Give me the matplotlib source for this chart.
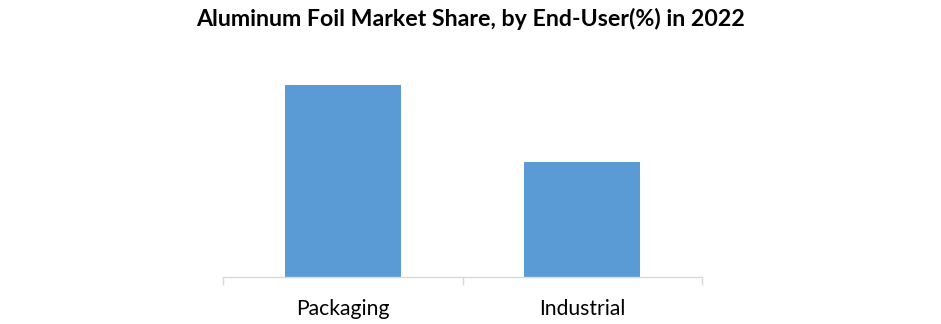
import numpy as np
import matplotlib.pyplot as plt

# Market share by end-user (%)
categories = ['Packaging', 'Industrial']
share = [62.6, 37.4]

plt.rcParams['font.family'] = ['Lato', 'DejaVu Sans']

fig = plt.figure(figsize=(9.41, 3.24), dpi=100)
ax = fig.add_axes([223 / 941, 47 / 324, 479 / 941, 214.7 / 324])

x = np.arange(len(categories))
ax.bar(x, share, width=0.483, color='#5B9BD5', zorder=2)

ax.set_xlim(-0.5, len(categories) - 0.5)
ax.set_ylim(0, 70)

for side in ['top', 'right', 'left']:
    ax.spines[side].set_visible(False)
ax.spines['bottom'].set_color('#D9D9D9')
ax.spines['bottom'].set_linewidth(1.0)

ax.set_yticks([])
ax.set_xticks(x)
ax.set_xticklabels(categories, fontsize=15.2, color='#000000')
ax.tick_params(axis='x', which='major', length=0, pad=15.5)
ax.set_xticks(np.arange(-0.5, len(categories), 1.0), minor=True)
ax.tick_params(axis='x', which='minor', length=6, color='#D9D9D9', width=1.0, direction='out')

fig.text(0.5, 1 - 18.5 / 324, 'Aluminum Foil Market Share, by End-User(%) in 2022',
         ha='center', va='center', fontsize=16.7, fontweight='bold', color='#000000')

fig.savefig('out.png', dpi=100)
